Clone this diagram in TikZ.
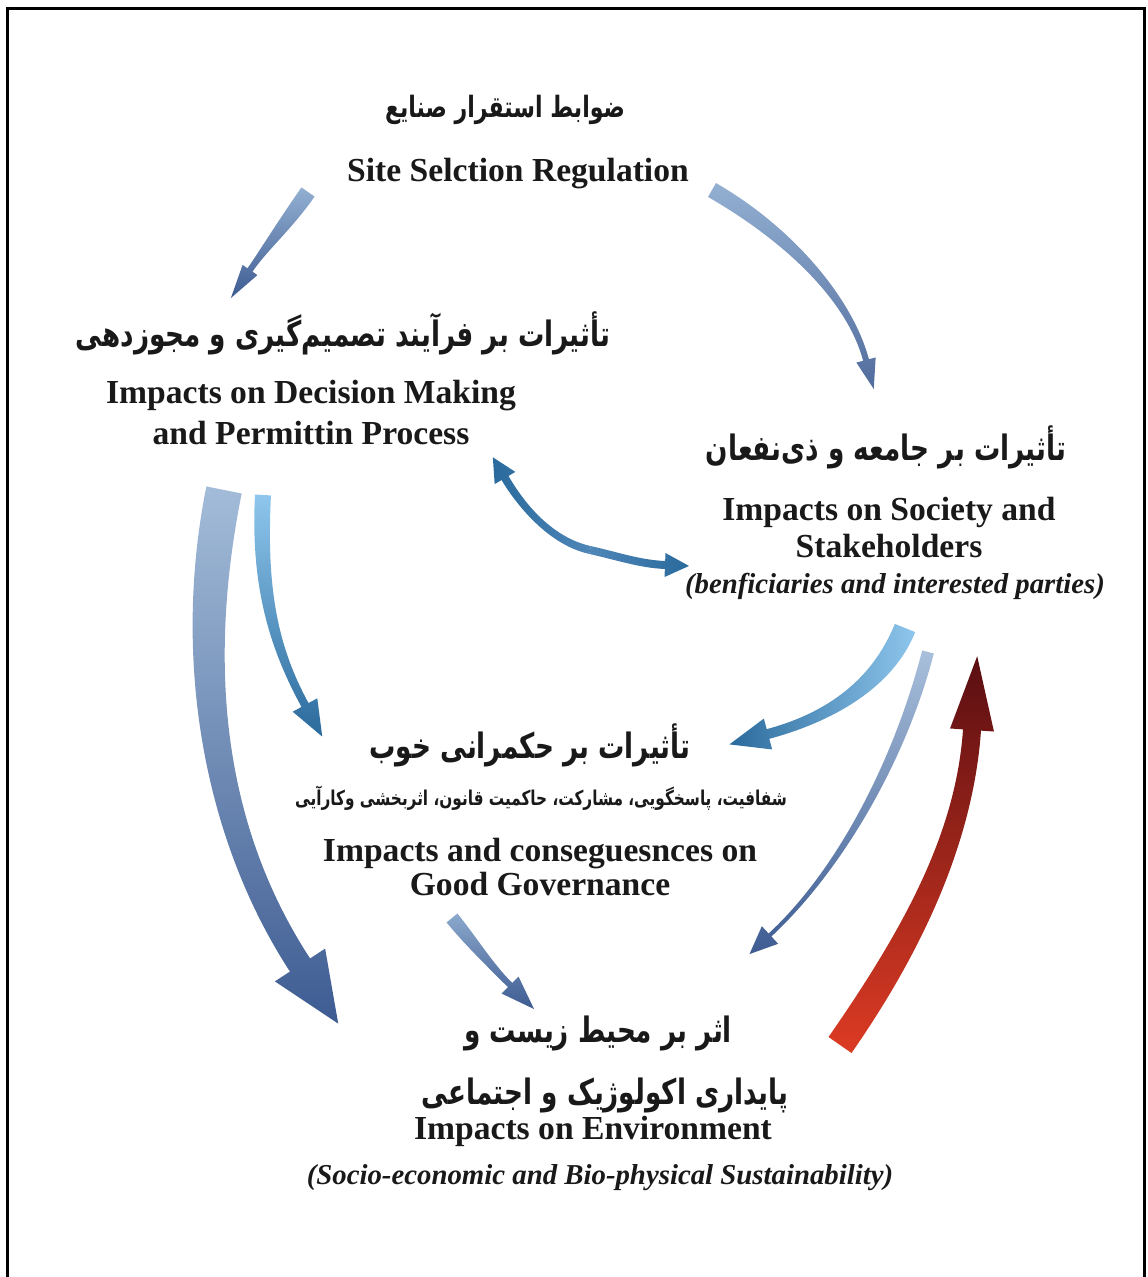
\documentclass[tikz,border=0pt]{standalone}
\usepackage{fontspec}
\setmainfont{Liberation Serif}
\newfontfamily\farsi[Script=Arabic, FakeStretch=0.75]{DejaVu Sans}
\usetikzlibrary{calc}
\TeXXeTstate=1

\definecolor{paleblue}{HTML}{93B0D2}
\definecolor{greyblue}{HTML}{3E5C92}
\definecolor{skyblue}{HTML}{8EC6EC}
\definecolor{deepblue}{HTML}{2A6A9C}
\definecolor{midblue}{HTML}{4F86B8}
\definecolor{brightred}{HTML}{DC3B23}
\definecolor{darkred}{HTML}{5A0E12}

% tapered arrow: shading, start, control 1, control 2, head base, start half width, end half width, head half width, head length
\newcommand{\flowarrow}[9]{%
  \shade[#1] ($(#2)!#6!90:(#3)$) .. controls ($(#3)!#6!-90:(#2)$) and ($(#4)!#7!90:(#5)$) .. ($(#5)!#7!-90:(#4)$)
    -- ($(#5)!#8!-90:(#4)$) -- ($(#5)!#9!180:(#4)$) -- ($(#5)!#8!90:(#4)$) -- ($(#5)!#7!90:(#4)$)
    .. controls ($(#4)!#7!-90:(#5)$) and ($(#3)!#6!90:(#2)$) .. ($(#2)!#6!-90:(#3)$) -- cycle;}

\begin{document}
\begin{tikzpicture}[x=0.5pt, y=-0.5pt]
  \tikzstyle{fa} = [font=\farsi\bfseries\fontsize{17.5}{22}\selectfont, text=black!90]
  \tikzstyle{en} = [font=\bfseries\fontsize{16.8}{20.5}\selectfont, align=center, text=black!90]
  \tikzstyle{note} = [font=\bfseries\itshape\fontsize{14.4}{18}\selectfont, text=black!90]
  \useasboundingbox (0,0) rectangle (1147,1277);
  \draw[line width=1.5pt] (7,1277) -- (7,9) -- (1144,9) -- (1144,1277);

  \node[fa, font=\farsi\bfseries\fontsize{14.7}{18}\selectfont] (siteFa) at (505,110) {\beginR ضوابط استقرار صنایع\endR};
  \node[en] (siteEn) at (518,174) {Site Selction Regulation};

  \node[fa] (decFa) at (343,333) {\beginR تأثیرات بر فرآیند تصمیم^^^^200cگیری و مجوزدهی\endR};
  \node[en] (decEn) at (311,413) {Impacts on Decision Making\\and Permittin Process};

  \node[fa] (socFa) at (886,447) {\beginR تأثیرات بر جامعه و ذی^^^^200cنفعان\endR};
  \node[en, font=\bfseries\fontsize{16.8}{18.5}\selectfont] (socEn) at (889,528) {Impacts on Society and\\Stakeholders};
  \node[note] (socNote) at (895,586) {(benficiaries and interested parties)};

  \node[fa] (govFa) at (530,745) {\beginR تأثیرات بر حکمرانی خوب\endR};
  \node[fa, font=\farsi\bfseries\fontsize{10.2}{12}\selectfont] (govSub) at (541,798) {\beginR شفافیت، پاسخگویی، مشارکت، حاکمیت قانون، اثربخشی وکارآیی\endR};
  \node[en, font=\bfseries\fontsize{16.8}{17}\selectfont] (govEn) at (540,867) {Impacts and conseguesnces on\\Good Governance};

  \node[fa] (envFa) at (598,1033) {\beginR اثر بر محیط زیست و\endR};
  \node[fa] (envFb) at (605,1095) {\beginR پایداری اکولوژیک و اجتماعی\endR};
  \node[en] (envEn) at (593,1131) {Impacts on Environment};
  \node[note] (envNote) at (600,1178) {(Socio-economic and Bio-physical Sustainability)};

  % arrow end points
  \coordinate (s1) at (308,192); \coordinate (p1) at (285,225); \coordinate (q1) at (265,248); \coordinate (e1) at (250,270);
  \coordinate (s2) at (712,190); \coordinate (p2) at (790,235); \coordinate (q2) at (850,300); \coordinate (e2) at (866,360);
  \coordinate (m3) at (590,550); \coordinate (p3) at (545,540); \coordinate (q3) at (515,495); \coordinate (e3) at (505,478);
  \coordinate (p3b) at (617,556); \coordinate (q3b) at (640,564); \coordinate (e3b) at (665,565);
  \coordinate (s4) at (224,490); \coordinate (p4) at (190,660); \coordinate (q4) at (212,830); \coordinate (e4) at (300,965);
  \coordinate (s5) at (263,495); \coordinate (p5) at (258,590); \coordinate (q5) at (275,650); \coordinate (e5) at (305,705);
  \coordinate (s6) at (905,628); \coordinate (p6) at (880,690); \coordinate (q6) at (820,720); \coordinate (e6) at (768,734);
  \coordinate (s7) at (928,652); \coordinate (p7) at (900,760); \coordinate (q7) at (840,870); \coordinate (e7) at (770,935);
  \coordinate (s8) at (840,1045); \coordinate (p8) at (920,930); \coordinate (q8) at (965,830); \coordinate (e8) at (972,730);
  \coordinate (s9) at (452,918); \coordinate (p9) at (470,940); \coordinate (q9) at (490,965); \coordinate (e9) at (510,985);

  \flowarrow{top color=paleblue, bottom color=greyblue}{s1}{p1}{q1}{e1}{4pt}{1.5pt}{4.5pt}{17pt}
  \flowarrow{top color=paleblue, bottom color=greyblue!90}{s2}{p2}{q2}{e2}{4pt}{1.5pt}{5pt}{15pt}
  \flowarrow{left color=deepblue, right color=midblue}{m3}{p3}{q3}{e3}{2pt}{2pt}{6pt}{12pt}
  \flowarrow{left color=midblue, right color=deepblue}{m3}{p3b}{q3b}{e3b}{2pt}{2pt}{6pt}{12pt}
  \flowarrow{top color=paleblue!85, bottom color=greyblue}{s4}{p4}{q4}{e4}{9pt}{6pt}{15pt}{35pt}
  \flowarrow{top color=skyblue, bottom color=deepblue}{s5}{p5}{q5}{e5}{4pt}{2pt}{7pt}{18pt}
  \flowarrow{right color=skyblue, left color=deepblue}{s6}{p6}{q6}{e6}{5.5pt}{2.5pt}{8pt}{20pt}
  \flowarrow{top color=paleblue!80, bottom color=greyblue}{s7}{p7}{q7}{e7}{3pt}{1pt}{6pt}{14pt}
  \flowarrow{bottom color=brightred, top color=darkred}{s8}{p8}{q8}{e8}{7pt}{4.5pt}{11pt}{37pt}
  \flowarrow{top color=paleblue!90!greyblue, bottom color=greyblue}{s9}{p9}{q9}{e9}{3.5pt}{1.5pt}{6pt}{17pt}
\end{tikzpicture}
\end{document}
